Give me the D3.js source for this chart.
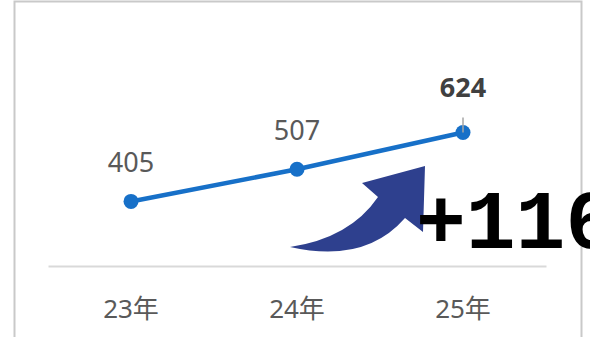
<!DOCTYPE html>
<html><head><meta charset="utf-8">
<script src="https://cdn.jsdelivr.net/npm/d3@7"></script>
<style>html,body{margin:0;padding:0;background:#fff;overflow:hidden}</style>
</head><body>
<svg id="c" width="590" height="337"></svg>
<script>
const categories = ["23年", "24年", "25年"];
const values = [405, 507, 624];
const deltaLabel = "+116";
const yDomain = [200, 800];

const svg = d3.select("#c");
const font = "'Noto Sans','Noto Sans CJK JP',sans-serif";

// frame
svg.append("rect").attr("x", 14.5).attr("y", 1.5).attr("width", 567).attr("height", 360)
  .attr("fill", "none").attr("stroke", "#c9c9c9").attr("stroke-width", 2);

const x = d3.scaleBand().domain(categories).range([48, 546]).padding(0);
const y = d3.scaleLinear().domain(yDomain).range([266, 77]);
const cx = d => x(d) + x.bandwidth() / 2;

// axis
const ax = svg.append("g").attr("transform", "translate(0,266)")
  .call(d3.axisBottom(x).tickSize(0).tickPadding(34));
ax.select(".domain").attr("stroke", "#d9d9d9").attr("stroke-width", 2);
ax.selectAll("text").attr("font-family", font).attr("font-size", 26).attr("fill", "#595959");

// arrow
svg.append("path")
  .attr("d", "M290,247 Q350,238 378,197 L362,183 L425,166 L423,232 L405,218 Q365,264 290,247 Z")
  .attr("fill", "#2E408E");

// line
const line = d3.line().x((d, i) => cx(categories[i])).y(d => y(d));
svg.append("path").datum(values).attr("d", line)
  .attr("fill", "none").attr("stroke", "#1770C8").attr("stroke-width", 4.5);

svg.selectAll("circle.pt").data(values).join("circle")
  .attr("class", "pt")
  .attr("cx", (d, i) => cx(categories[i])).attr("cy", d => y(d)).attr("r", 7.5)
  .attr("fill", "#1770C8");

// leader line on last label
const last = values.length - 1;
svg.append("line")
  .attr("x1", cx(categories[last])).attr("x2", cx(categories[last]))
  .attr("y1", y(values[last]) - 15).attr("y2", y(values[last]))
  .attr("stroke", "#a6a6a6").attr("stroke-width", 1.5);

// labels
svg.selectAll("text.lbl").data(values).join("text")
  .attr("class", "lbl")
  .attr("x", (d, i) => cx(categories[i]))
  .attr("y", (d, i) => y(d) - (i === last ? 35 : 29))
  .attr("text-anchor", "middle")
  .attr("font-family", font).attr("font-size", 27)
  .attr("font-weight", (d, i) => i === last ? "bold" : "normal")
  .attr("fill", (d, i) => i === last ? "#404040" : "#595959")
  .text(d => d);

// delta
svg.append("text").attr("x", 416).attr("y", 248)
  .attr("font-family", "'Liberation Mono','DejaVu Sans Mono',monospace")
  .attr("font-size", 83).attr("font-weight", "bold").attr("fill", "#000")
  .text(deltaLabel);
</script>
</body></html>
